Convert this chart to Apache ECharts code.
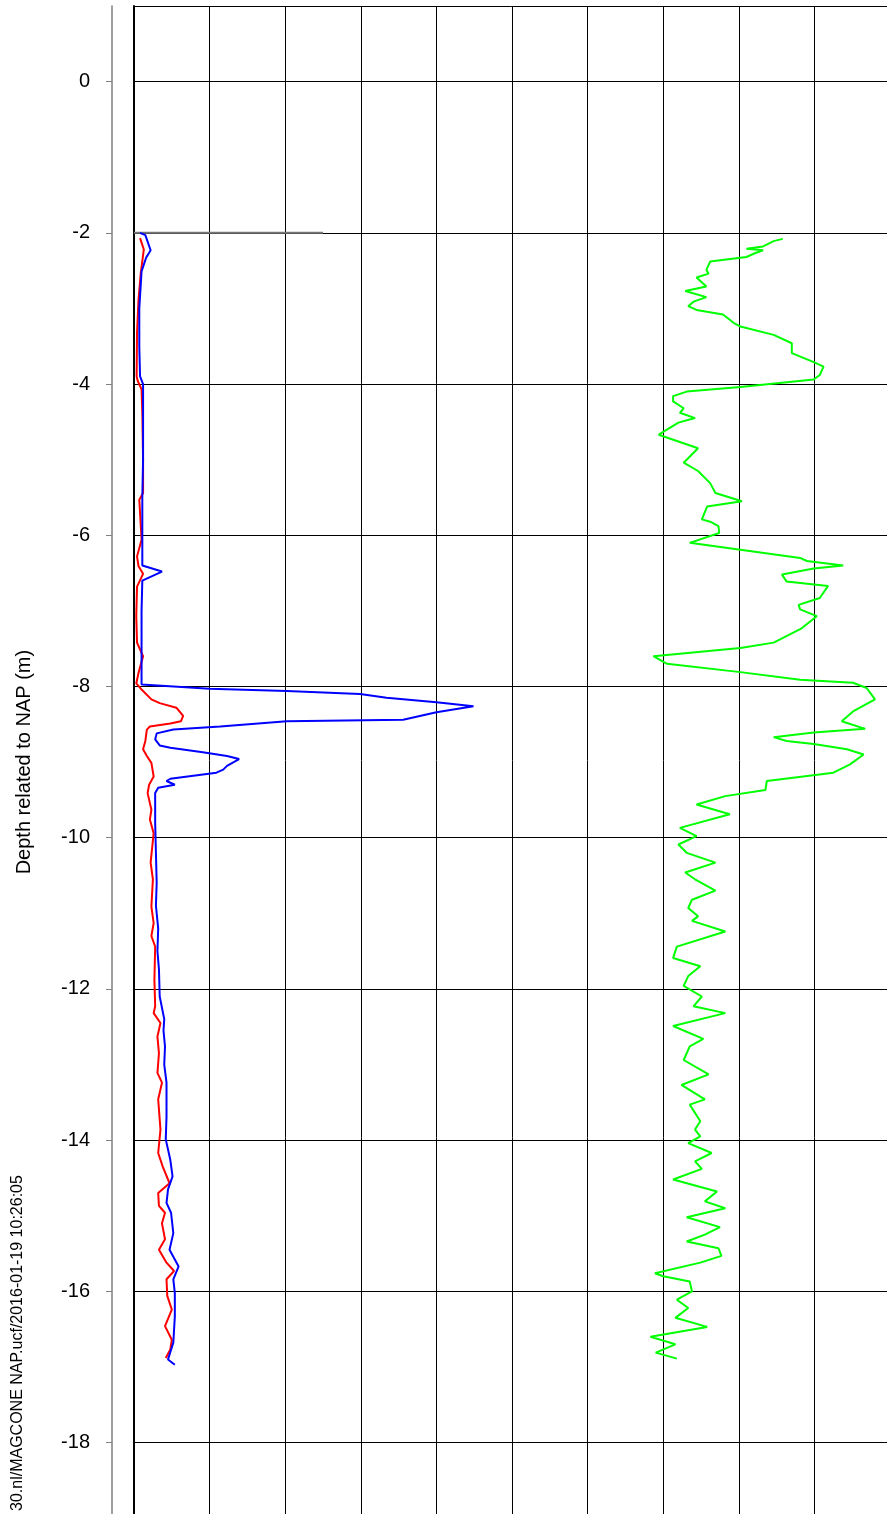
<!DOCTYPE html>
<html>
<head>
<meta charset="utf-8">
<script src="https://cdn.jsdelivr.net/npm/echarts@6/dist/echarts.min.js"></script>
<style>
html,body{margin:0;padding:0;background:#fff;}
#chart{width:887px;height:1514px;}
</style>
</head>
<body>
<div id="chart"></div>
<script>
// ---- data (depth in m relative to NAP, values in grid-column units) ----
const yTicks = [0, -2, -4, -6, -8, -10, -12, -14, -16, -18];
const yAxisTitle = 'Depth related to NAP (m)';
const footerText = '30.nl/MAGCONE NAP.ucf/2016-01-19 10:26:05';

const startLineDepth = [-2, -2];
const startLineValue = [0, 2.5];

const blueDepth = [-2.00,-2.03,-2.23,-2.33,-2.51,-3.0,-3.5,-3.9,-4.0,-4.3,-5.0,-5.5,-6.0,-6.4,-6.48,-6.6,-7.0,-7.5,-7.975,-8.03,-8.06,-8.10,-8.15,-8.21,-8.26,-8.34,-8.44,-8.46,-8.53,-8.57,-8.62,-8.70,-8.78,-8.81,-8.87,-8.92,-8.96,-9.05,-9.10,-9.14,-9.22,-9.25,-9.30,-9.34,-9.41,-9.59,-9.8,-10.2,-10.6,-10.9,-11.2,-11.5,-11.74,-12.1,-12.4,-12.55,-12.76,-13.0,-13.24,-13.69,-13.99,-14.26,-14.48,-14.65,-14.83,-14.96,-15.23,-15.45,-15.67,-15.84,-16.02,-16.33,-16.68,-16.90,-16.97];
const blueValue = [0.08,0.15,0.22,0.16,0.10,0.07,0.07,0.08,0.12,0.12,0.12,0.11,0.11,0.11,0.37,0.11,0.10,0.10,0.10,1.00,2.02,2.99,3.34,4.00,4.49,4.00,3.56,2.02,1.14,0.52,0.30,0.28,0.34,0.48,0.91,1.23,1.39,1.23,1.18,1.09,0.48,0.43,0.54,0.32,0.28,0.28,0.28,0.29,0.30,0.29,0.32,0.31,0.33,0.34,0.40,0.39,0.41,0.40,0.43,0.43,0.42,0.48,0.51,0.45,0.43,0.49,0.52,0.47,0.59,0.52,0.54,0.54,0.52,0.45,0.54];

const redDepth = [-2.07,-2.22,-2.53,-2.88,-3.32,-3.9,-3.96,-4.07,-4.38,-5.0,-5.44,-5.53,-6.06,-6.28,-6.41,-6.51,-6.68,-7.07,-7.42,-7.60,-7.82,-7.96,-8.04,-8.17,-8.22,-8.28,-8.39,-8.46,-8.49,-8.53,-8.57,-8.72,-8.83,-8.92,-9.01,-9.19,-9.30,-9.41,-9.63,-9.76,-9.94,-10.33,-10.55,-10.91,-11.13,-11.30,-11.44,-11.88,-12.23,-12.32,-12.45,-12.63,-12.85,-13.11,-13.24,-13.46,-13.86,-14.17,-14.35,-14.57,-14.70,-14.87,-14.96,-15.10,-15.31,-15.45,-15.62,-15.73,-15.84,-16.06,-16.24,-16.46,-16.64,-16.77,-16.88];
const redValue = [0.08,0.13,0.09,0.06,0.04,0.035,0.05,0.10,0.11,0.12,0.12,0.07,0.10,0.04,0.06,0.12,0.04,0.03,0.04,0.12,0.06,0.03,0.10,0.23,0.34,0.56,0.65,0.62,0.48,0.21,0.17,0.15,0.12,0.17,0.23,0.26,0.20,0.18,0.23,0.21,0.26,0.22,0.25,0.23,0.26,0.23,0.28,0.27,0.28,0.26,0.35,0.31,0.33,0.31,0.37,0.32,0.35,0.32,0.38,0.47,0.32,0.33,0.41,0.37,0.41,0.33,0.43,0.53,0.43,0.44,0.50,0.41,0.50,0.48,0.42];

const greenDepth = [-2.08,-2.11,-2.18,-2.21,-2.23,-2.27,-2.32,-2.38,-2.49,-2.54,-2.59,-2.71,-2.77,-2.85,-2.91,-2.97,-3.02,-3.08,-3.19,-3.24,-3.35,-3.46,-3.59,-3.71,-3.77,-3.88,-3.94,-4.04,-4.10,-4.16,-4.23,-4.32,-4.38,-4.45,-4.51,-4.67,-4.76,-4.85,-5.04,-5.15,-5.31,-5.44,-5.55,-5.62,-5.79,-5.82,-5.88,-5.97,
  -6.10,-6.19,-6.30,-6.34,-6.40,-6.44,-6.52,-6.61,-6.67,-6.83,-6.92,-6.98,-7.07,-7.23,-7.42,-7.49,-7.60,-7.70,-7.81,-7.91,-7.95,-8.02,-8.17,-8.33,-8.46,-8.56,-8.61,-8.67,-8.72,-8.76,-8.83,-8.90,-9.03,-9.14,-9.25,-9.37,-9.45,-9.56,-9.69,-9.87,-9.98,-10.09,
  -10.20,-10.33,-10.46,-10.55,-10.70,-10.82,-10.93,-11.04,-11.10,-11.24,-11.44,-11.59,-11.70,-11.83,-11.96,-12.10,-12.23,-12.32,-12.49,-12.66,-12.76,-12.94,-13.13,-13.27,-13.46,-13.53,-13.75,-13.86,-13.95,-14.04,
  -14.17,-14.28,-14.38,-14.52,-14.68,-14.81,-14.90,-15.02,-15.15,-15.25,-15.34,-15.43,-15.53,-15.62,-15.76,-15.80,-15.87,-16.00,-16.11,-16.22,-16.35,-16.47,-16.60,-16.70,-16.81,-16.89];
const greenValue = [8.58,8.46,8.32,8.10,8.32,8.21,8.10,7.62,7.57,7.60,7.44,7.57,7.29,7.57,7.40,7.33,7.44,7.79,7.93,8.02,8.46,8.70,8.70,8.99,9.12,9.07,8.99,8.02,7.31,7.13,7.13,7.27,7.22,7.42,7.20,6.94,7.20,7.46,7.27,7.46,7.62,7.69,8.04,7.58,7.51,7.62,7.73,7.74,
  7.35,8.02,8.81,8.90,9.38,8.99,8.57,8.63,9.18,9.07,8.79,8.81,9.03,8.83,8.46,8.02,6.87,7.05,8.02,8.81,9.51,9.69,9.80,9.51,9.36,9.67,8.99,8.46,8.63,8.99,9.43,9.65,9.47,9.25,8.37,8.35,7.82,7.44,7.88,7.22,7.44,7.20,
  7.31,7.69,7.29,7.42,7.69,7.38,7.33,7.46,7.38,7.82,7.18,7.13,7.49,7.33,7.27,7.51,7.40,7.82,7.13,7.53,7.35,7.27,7.60,7.24,7.55,7.35,7.49,7.42,7.49,7.33,
  7.64,7.42,7.51,7.13,7.71,7.55,7.82,7.31,7.75,7.55,7.31,7.73,7.77,7.49,6.89,7.00,7.35,7.38,7.18,7.33,7.16,7.58,6.83,7.16,6.90,7.18];

// ---- build ----
const pairs = (xs, ys) => xs.map((x, i) => [x, ys[i]]);
const PX = 75.61;          // pixels per metre / per column
const plotLeft = 134, plotTop = 6, axisLeft = 112;
const FONT = "'Liberation Sans', Arial, sans-serif";
const noGrid = {outerBoundsMode: 'none', containLabel: false};

const chart = echarts.init(document.getElementById('chart'), null, {renderer: 'canvas'});
chart.setOption({
  animation: false,
  backgroundColor: '#fff',
  grid: [
    // 0: data plot area (depth +1 .. -19)
    Object.assign({left: plotLeft, top: plotTop, width: 10 * PX, height: 20 * PX}, noGrid),
    // 1: horizontal grid lines (depth +2 .. -20, step 2)
    Object.assign({left: plotLeft, top: plotTop - PX, width: 10 * PX, height: 22 * PX}, noGrid),
    // 2: outer grey axis line
    Object.assign({left: axisLeft, top: plotTop, width: plotLeft - axisLeft, height: 20 * PX}, noGrid),
    // 3: ticks, labels, axis name
    Object.assign({left: axisLeft, top: plotTop - PX, width: plotLeft - axisLeft, height: 22 * PX}, noGrid)
  ],
  xAxis: [
    {gridIndex: 0, type: 'value', min: 0, max: 10, interval: 1, position: 'bottom',
     axisLine: {show: false}, axisTick: {show: false}, axisLabel: {show: false},
     splitLine: {show: true, lineStyle: {color: '#000', width: 1}}},
    {gridIndex: 0, type: 'value', min: 0, max: 10, position: 'top',
     axisLine: {show: true, lineStyle: {color: '#000', width: 1}}, axisTick: {show: false},
     axisLabel: {show: false}, splitLine: {show: false}},
    {gridIndex: 1, type: 'value', min: 0, max: 10, show: false},
    {gridIndex: 2, type: 'value', min: 0, max: 1, show: false},
    {gridIndex: 3, type: 'value', min: 0, max: 1, show: false}
  ],
  yAxis: [
    {gridIndex: 0, type: 'value', min: -19, max: 1, position: 'left',
     axisLine: {show: true, lineStyle: {color: '#000', width: 2}}, axisTick: {show: false},
     axisLabel: {show: false}, splitLine: {show: false}},
    {gridIndex: 1, type: 'value', min: -20, max: 2, interval: 2, position: 'left',
     axisLine: {show: false}, axisTick: {show: false}, axisLabel: {show: false},
     splitLine: {show: true, lineStyle: {color: '#000', width: 1}}},
    {gridIndex: 2, type: 'value', min: -19, max: 1, position: 'left',
     axisLine: {show: true, lineStyle: {color: '#808080', width: 1.5}}, axisTick: {show: false},
     axisLabel: {show: false}, splitLine: {show: false}},
    {gridIndex: 3, type: 'value', min: -20, max: 2, interval: 2, position: 'left',
     axisLine: {show: false},
     axisTick: {show: true, inside: false, length: 6, lineStyle: {color: '#808080', width: 1}},
     axisLabel: {show: true, margin: 22, color: '#000', fontSize: 20, fontFamily: FONT,
       formatter: v => (yTicks.indexOf(v) >= 0 ? String(v) : '')},
     splitLine: {show: false},
     name: yAxisTitle, nameLocation: 'middle', nameGap: 78, nameRotate: 90,
     nameTextStyle: {color: '#000', fontSize: 20, fontFamily: FONT}}
  ],
  series: [
    {type: 'line', xAxisIndex: 0, yAxisIndex: 0, data: pairs(startLineValue, startLineDepth),
     showSymbol: false, lineStyle: {color: '#777', width: 2}, silent: true},
    {type: 'line', name: 'red', xAxisIndex: 0, yAxisIndex: 0, data: pairs(redValue, redDepth),
     showSymbol: false, lineStyle: {color: '#ff0000', width: 2}, silent: true},
    {type: 'line', name: 'blue', xAxisIndex: 0, yAxisIndex: 0, data: pairs(blueValue, blueDepth),
     showSymbol: false, lineStyle: {color: '#0000ff', width: 2}, silent: true},
    {type: 'line', name: 'green', xAxisIndex: 0, yAxisIndex: 0, data: pairs(greenValue, greenDepth),
     showSymbol: false, lineStyle: {color: '#00ff00', width: 2}, silent: true}
  ],
  graphic: [
    {type: 'text', x: 18, y: 1511, rotation: Math.PI / 2,
     style: {text: footerText, fill: '#000', font: '16px ' + FONT, align: 'left', verticalAlign: 'middle'}}
  ]
});
</script>
</body>
</html>
